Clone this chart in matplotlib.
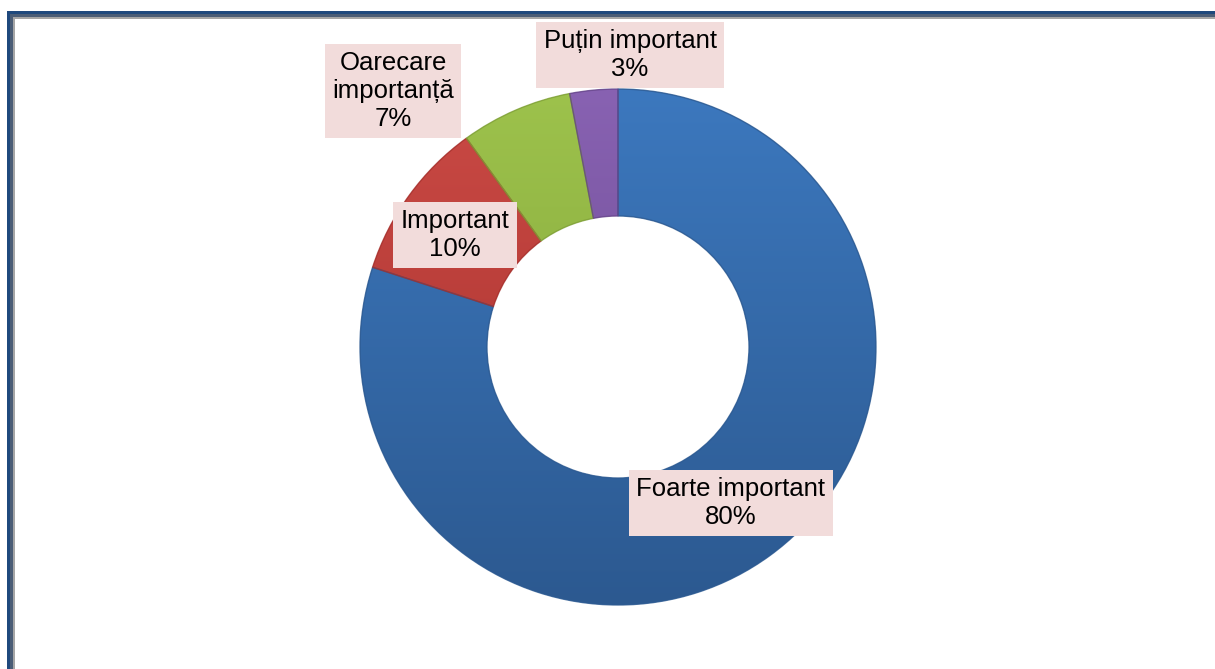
import numpy as np
import matplotlib
matplotlib.use("Agg")
import matplotlib.pyplot as plt
from matplotlib.patches import Rectangle, Wedge
from matplotlib.colors import LinearSegmentedColormap

categories = ["Foarte important", "Important", "Oarecare\nimportanță", "Puțin important"]
values = [80, 10, 7, 3]
pct_labels = ["80%", "10%", "7%", "3%"]

W, H = 1215, 669
fig = plt.figure(figsize=(W / 100, H / 100), dpi=100)
ax = fig.add_axes([0, 0, 1, 1])

cx, cy_px, R = 618, 347, 258
ring = 127
center = (cx, H - cy_px)

grads = [("#3C78BE", "#2C5990"),
         ("#CA4A45", "#A52F2B"),
         ("#9DC24C", "#7E9F36"),
         ("#8862B2", "#654489")]

wedges, _ = ax.pie(values, radius=R, center=center, startangle=90,
                   counterclock=False,
                   colors=[g[0] for g in grads],
                   wedgeprops=dict(width=ring, edgecolor="none"))

ext = [cx - R, cx + R, H - cy_px - R, H - cy_px + R]
grad = np.linspace(0, 1, 256).reshape(-1, 1)
for w, (c1, c2) in zip(wedges, grads):
    cmap = LinearSegmentedColormap.from_list("g", [c1, c2])
    im = ax.imshow(grad, extent=ext, origin="upper", cmap=cmap,
                   aspect="auto", zorder=2, interpolation="bilinear")
    im.set_clip_path(w)
    w.set_zorder(1)
    ax.add_patch(Wedge(w.center, w.r, w.theta1, w.theta2, width=w.width,
                       facecolor="none", edgecolor=c2, linewidth=1.0,
                       zorder=3, alpha=0.8))

ax.set_xlim(0, W)
ax.set_ylim(0, H)
ax.set_aspect("auto")
ax.axis("off")

label_pos = [(731, 503), (455, 235), (393, 91), (630, 55)]
for cat, pct, (lx, ly) in zip(categories, pct_labels, label_pos):
    ax.text(lx, H - ly, f"{cat}\n{pct}", ha="center", va="center",
            multialignment="center", fontsize=18.5, linespacing=1.2,
            family=["Liberation Sans", "DejaVu Sans"], color="black", zorder=5,
            bbox=dict(boxstyle="square,pad=0.28", facecolor="#F2DCDB",
                      edgecolor="none"))

# frame (top and left edges)
ax.add_patch(Rectangle((7, H - 14), W - 7, 3, facecolor="#1F497D", edgecolor="none", zorder=6))
ax.add_patch(Rectangle((10, H - 17), W - 10, 3, facecolor="#4B5D76", edgecolor="none", zorder=6))
ax.add_patch(Rectangle((13, H - 19), W - 13, 2, facecolor="#A6A6A6", edgecolor="none", zorder=6))
ax.add_patch(Rectangle((7, 0), 3, H - 11, facecolor="#1F497D", edgecolor="none", zorder=6))
ax.add_patch(Rectangle((10, 0), 3, H - 14, facecolor="#4B5D76", edgecolor="none", zorder=6))
ax.add_patch(Rectangle((13, 0), 2, H - 17, facecolor="#A6A6A6", edgecolor="none", zorder=6))

fig.savefig("out.png", dpi=100)
